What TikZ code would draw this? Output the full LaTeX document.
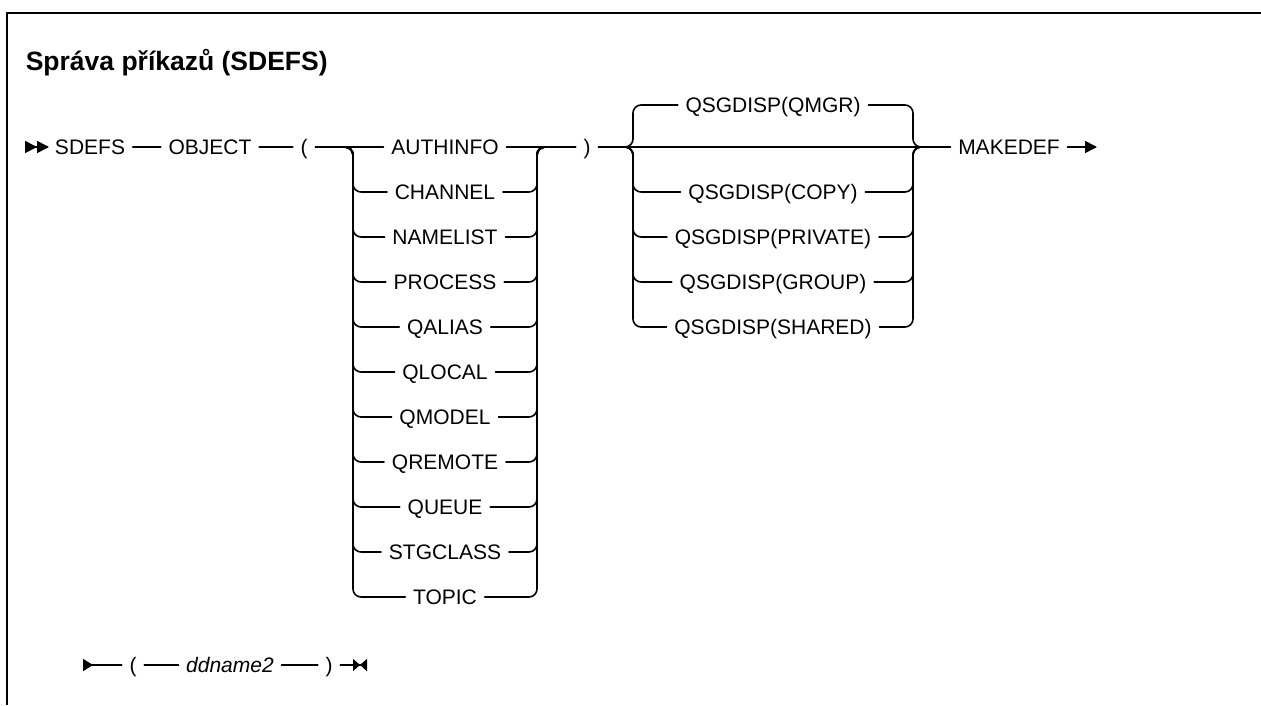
\documentclass[tikz,border=0pt]{standalone}
\usepackage{fontspec}
\setmainfont{Liberation Sans}
\usetikzlibrary{arrows.meta,positioning}
\tikzset{
  kw/.style={inner xsep=7pt,inner ysep=0pt,text height=15pt,text depth=0pt,font=\fontsize{21}{25}\selectfont},
  var/.style={kw,font=\fontsize{21}{25}\selectfont\itshape},
  rail/.style={rounded corners=8pt},
  every picture/.style={line cap=round,line join=round}
}

\begin{document}
\begin{tikzpicture}[x=1pt,y=-1pt,line width=1.6pt]
  \useasboundingbox (0,0) rectangle (1261,705);
  \draw[line width=2.4pt,line cap=butt] (7,705) -- (7,13) -- (1261,13);
  \node[anchor=base west,inner sep=0pt,font=\fontsize{26.5}{30}\selectfont\bfseries] (title) at (25,70) {Správa příkazů (SDEFS)};

  % main line
  \coordinate (start) at (25,147);
  \node[kw] (sdefs) at (90,147) {SDEFS};
  \node[kw] (object) at (210,147) {OBJECT};
  \node[kw] (lpar) at (304,147) {(};
  \node[kw] (rpar) at (587,147) {)};
  \node[kw] (makedef) at (1009,147) {MAKEDEF};
  \coordinate (stop) at (1097,147);
  \draw[{Triangle[length=12pt,width=12pt,reversed]Triangle[length=12pt,width=12pt,reversed]}-] (start) -- (sdefs);
  \draw (sdefs) -- (object) (object) -- (lpar);
  \draw[-{Triangle[length=12pt,width=12pt]}] (makedef) -- (stop);

  % object types
  \coordinate (objin) at (345,147);
  \coordinate (objl) at (353,147);
  \coordinate (objr) at (537,147);
  \coordinate (objout) at (545,147);
  \node[kw] (authinfo) at (445,147) {AUTHINFO};
  \node[kw] (channel) at (445,192) {CHANNEL};
  \node[kw] (namelist) at (445,237) {NAMELIST};
  \node[kw] (process) at (445,282) {PROCESS};
  \node[kw] (qalias) at (445,327) {QALIAS};
  \node[kw] (qlocal) at (445,372) {QLOCAL};
  \node[kw] (qmodel) at (445,417) {QMODEL};
  \node[kw] (qremote) at (445,462) {QREMOTE};
  \node[kw] (queue) at (445,507) {QUEUE};
  \node[kw] (stgclass) at (445,552) {STGCLASS};
  \node[kw] (topic) at (445,597) {TOPIC};
  \draw (lpar) -- (authinfo) (authinfo) -- (rpar);
  \foreach \n in {channel,namelist,process,qalias,qlocal,qmodel,qremote,queue,stgclass,topic}
    \draw[rail] (objin) -| (objl |- \n) -- (\n.west) (\n.east) -| (objr) -- (objout);

  % disposition
  \coordinate (dspin) at (625,147);
  \coordinate (dspl) at (633,147);
  \coordinate (dspr) at (913,147);
  \coordinate (dspout) at (921,147);
  \node[kw] (qmgr) at (773,105) {QSGDISP(QMGR)};
  \node[kw] (copy) at (773,192) {QSGDISP(COPY)};
  \node[kw] (private) at (773,237) {QSGDISP(PRIVATE)};
  \node[kw] (group) at (773,282) {QSGDISP(GROUP)};
  \node[kw] (shared) at (773,327) {QSGDISP(SHARED)};
  \draw (rpar) -- (makedef);
  \foreach \n in {qmgr,copy,private,group,shared}
    \draw[rail] (dspin) -| (dspl |- \n) -- (\n.west) (\n.east) -| (dspr) -- (dspout);

  % fragment
  \coordinate (fstart) at (83,665);
  \node[kw] (flpar) at (133,665) {(};
  \node[var] (ddname) at (230,665) {ddname2};
  \node[kw] (frpar) at (329,665) {)};
  \coordinate (fstop) at (367,665);
  \draw[{Triangle[length=10pt,width=12pt,reversed]}-] (fstart) -- (flpar);
  \draw (flpar) -- (ddname) (ddname) -- (frpar);
  \draw[-{Triangle[length=7pt,width=12pt]Triangle[length=7pt,width=12pt,reversed]}] (frpar) -- (fstop);
\end{tikzpicture}
\end{document}
